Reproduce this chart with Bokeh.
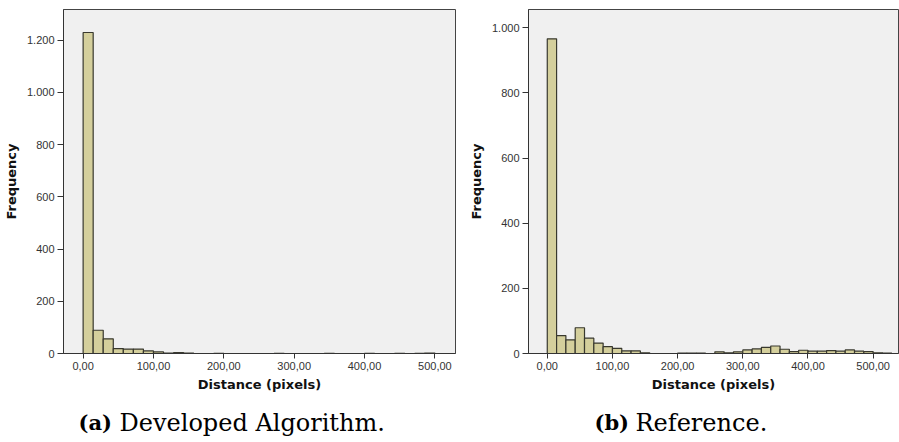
from bokeh.plotting import figure
from bokeh.layouts import column, row
from bokeh.models import Range1d, FixedTicker
from bokeh.embed import file_html
from bokeh.resources import INLINE
from bokeh.core.properties import value

# ---------------- data ----------------
BIN_WIDTH = 100.0 / 7.0  # histogram bin width (pixels)

dev_counts = [1229, 89, 56, 19, 17, 17, 10, 6, 2, 3, 2, 0, 0, 1, 0, 0, 0, 0,
              0, 1, 0, 0, 0, 0, 1, 0, 0, 0, 1, 0, 0, 1, 0, 1, 2]
ref_counts = [966, 55, 42, 79, 47, 32, 21, 16, 8, 8, 2, 0, 0, 0, 1, 1, 1, 0,
              5, 2, 5, 11, 14, 19, 23, 13, 6, 10, 7, 7, 9, 7, 11, 7, 6, 2, 1]

x_ticks = [0, 100, 200, 300, 400, 500]
x_tick_labels = ["0,00", "100,00", "200,00", "300,00", "400,00", "500,00"]
dev_y_ticks = [0, 200, 400, 600, 800, 1000, 1200]
dev_y_labels = ["0", "200", "400", "600", "800", "1.000", "1.200"]
ref_y_ticks = [0, 200, 400, 600, 800, 1000]
ref_y_labels = ["0", "200", "400", "600", "800", "1.000"]

x_title = "Distance (pixels)"
y_title = "Frequency"
captions_bold = ["(a)", "(b)"]
captions_text = ["Developed Algorithm.", "Reference."]

BAR_FILL = "#d4cf9c"
BAR_LINE = "#38382e"
PANEL_BG = "#f0f0f0"


def make_panel(counts, yticks, ylabels, xr, yr, width, bl, br):
    p = figure(width=width, height=400, x_range=Range1d(*xr), y_range=Range1d(*yr),
               output_backend="svg", toolbar_location=None,
               min_border_left=bl, min_border_right=br,
               min_border_top=9, min_border_bottom=47)
    lefts, rights, tops = [], [], []
    for i, c in enumerate(counts):
        if c > 0:
            lefts.append(i * BIN_WIDTH)
            rights.append((i + 1) * BIN_WIDTH)
            tops.append(c)
    p.quad(left=lefts, right=rights, bottom=0, top=tops,
           fill_color=BAR_FILL, line_color=BAR_LINE, line_width=1.2)
    p.background_fill_color = PANEL_BG
    p.border_fill_color = "white"
    p.outline_line_color = "#444444"
    p.outline_line_width = 1
    p.grid.visible = False

    p.xaxis.ticker = FixedTicker(ticks=x_ticks)
    p.xaxis.major_label_overrides = {t: l for t, l in zip(x_ticks, x_tick_labels)}
    p.yaxis.ticker = FixedTicker(ticks=yticks)
    p.yaxis.major_label_overrides = {t: l for t, l in zip(yticks, ylabels)}

    for ax in (p.xaxis, p.yaxis):
        ax.minor_tick_line_color = None
        ax.major_tick_in = 0
        ax.major_tick_out = 6
        ax.major_tick_line_color = "#333333"
        ax.axis_line_color = "#333333"
        ax.major_label_text_font = "Liberation Sans"
        ax.major_label_text_font_size = "11px"
        ax.major_label_text_color = "#333333"
        ax.axis_label_text_font = "DejaVu Sans"
        ax.axis_label_text_font_style = "bold"
        ax.axis_label_text_font_size = "13px"
        ax.axis_label_text_color = "#111111"
    p.xaxis.major_tick_out = 5
    p.xaxis.major_label_standoff = 3
    p.xaxis.axis_label_standoff = 4
    p.yaxis.major_label_standoff = 3
    p.yaxis.axis_label_standoff = 5
    p.xaxis.axis_label = x_title
    p.yaxis.axis_label = y_title
    return p


p1 = make_panel(dev_counts, dev_y_ticks, dev_y_labels,
                (-27.9, 529.3), (0, 1317), 465, 62, 10)
p2 = make_panel(ref_counts, ref_y_ticks, ref_y_labels,
                (-28.8, 538.9), (0, 1056), 434, 53, 1)

cap = figure(width=899, height=42, x_range=Range1d(0, 899), y_range=Range1d(42, 0),
             output_backend="svg", toolbar_location=None,
             min_border=0, min_border_left=0, min_border_right=0,
             min_border_top=0, min_border_bottom=0)
cap.axis.visible = False
cap.grid.visible = False
cap.outline_line_color = None
cap.text(x=[78, 594], y=[22, 22], text=captions_bold,
         text_font=value("DejaVu Serif"), text_font_style="bold",
         text_font_size="21px", text_baseline="middle", text_align="left",
         text_color="black")
cap.text(x=[119, 635], y=[22, 22], text=captions_text,
         text_font=value("DejaVu Serif"), text_font_style="normal",
         text_font_size="24px", text_baseline="middle", text_align="left",
         text_color="black")

layout = column(row(p1, p2), cap)
open("out.html", "w").write(file_html(layout, INLINE))
